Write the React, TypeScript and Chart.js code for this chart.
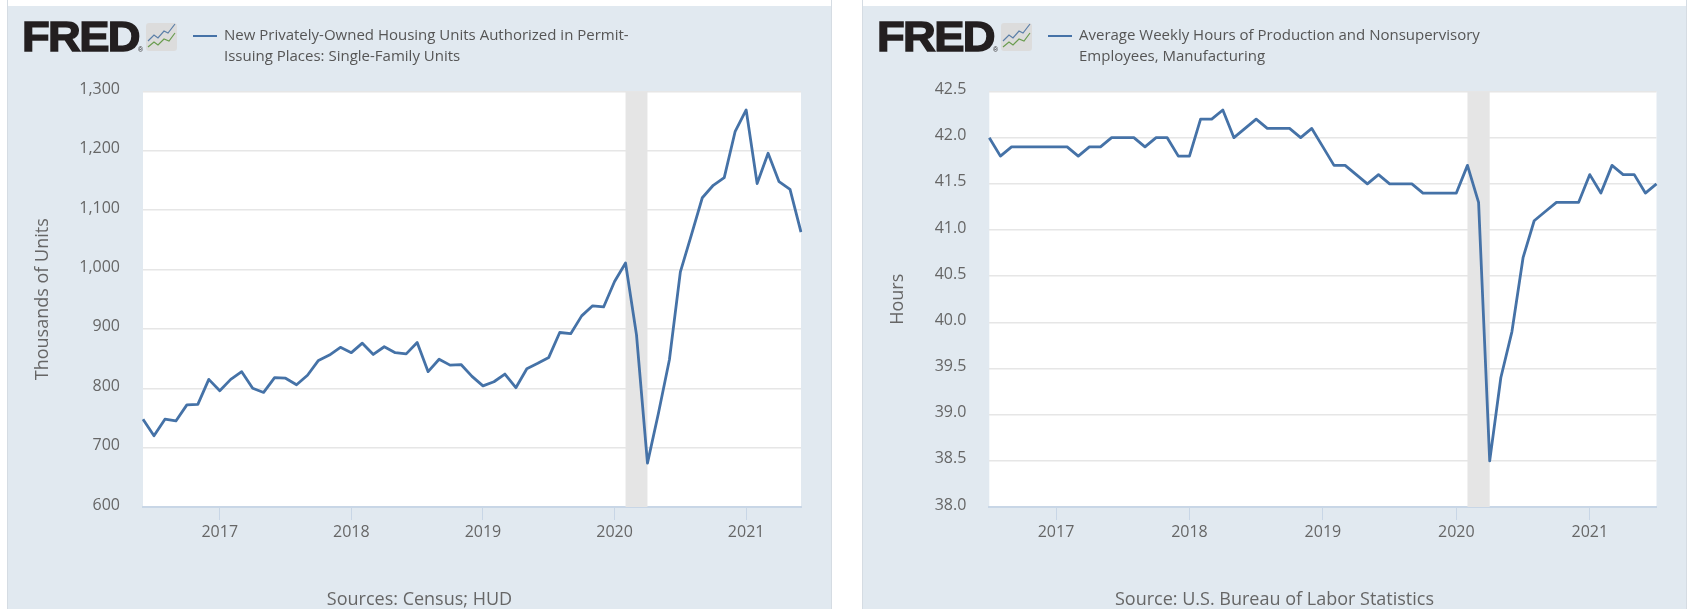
import React, { useEffect, useRef } from "react";
import { Chart, registerables } from "chart.js";

Chart.register(...registerables);

const permitMonths = ["2016-06","2016-07","2016-08","2016-09","2016-10","2016-11","2016-12",
"2017-01","2017-02","2017-03","2017-04","2017-05","2017-06","2017-07","2017-08","2017-09","2017-10","2017-11","2017-12",
"2018-01","2018-02","2018-03","2018-04","2018-05","2018-06","2018-07","2018-08","2018-09","2018-10","2018-11","2018-12",
"2019-01","2019-02","2019-03","2019-04","2019-05","2019-06","2019-07","2019-08","2019-09","2019-10","2019-11","2019-12",
"2020-01","2020-02","2020-03","2020-04","2020-05","2020-06","2020-07","2020-08","2020-09","2020-10","2020-11","2020-12",
"2021-01","2021-02","2021-03","2021-04","2021-05","2021-06"];
const permitValues = [748,720,748,745,772,773,815,
796,815,828,800,793,818,817,806,822,847,856,869,
860,876,857,870,860,858,877,828,849,839,840,820,
804,811,824,801,833,842,852,894,892,922,939,937,
980,1011,890,674,758,848,996,1058,1121,1142,1155,1233,
1269,1145,1196,1148,1135,1063];

const hoursMonths = ["2016-07","2016-08","2016-09","2016-10","2016-11","2016-12",
"2017-01","2017-02","2017-03","2017-04","2017-05","2017-06","2017-07","2017-08","2017-09","2017-10","2017-11","2017-12",
"2018-01","2018-02","2018-03","2018-04","2018-05","2018-06","2018-07","2018-08","2018-09","2018-10","2018-11","2018-12",
"2019-01","2019-02","2019-03","2019-04","2019-05","2019-06","2019-07","2019-08","2019-09","2019-10","2019-11","2019-12",
"2020-01","2020-02","2020-03","2020-04","2020-05","2020-06","2020-07","2020-08","2020-09","2020-10","2020-11","2020-12",
"2021-01","2021-02","2021-03","2021-04","2021-05","2021-06","2021-07"];
const hoursValues = [42.0,41.8,41.9,41.9,41.9,41.9,
41.9,41.9,41.8,41.9,41.9,42.0,42.0,42.0,41.9,42.0,42.0,41.8,
41.8,42.2,42.2,42.3,42.0,42.1,42.2,42.1,42.1,42.1,42.0,42.1,
41.9,41.7,41.7,41.6,41.5,41.6,41.5,41.5,41.5,41.4,41.4,41.4,
41.4,41.7,41.3,38.5,39.4,39.9,40.7,41.1,41.2,41.3,41.3,41.3,
41.6,41.4,41.7,41.6,41.6,41.4,41.5];

const recessionStart = "2020-02";
const recessionEnd = "2020-04";
const FONT = "'Open Sans', sans-serif";
const TEXT = "#666666";

const recessionBand = {
  id: "recessionBand",
  beforeDatasetsDraw(chart: any) {
    const { ctx, chartArea, scales } = chart;
    const labels = chart.data.labels;
    const a = scales.x.getPixelForValue(labels.indexOf(recessionStart));
    const b = scales.x.getPixelForValue(labels.indexOf(recessionEnd));
    ctx.save();
    ctx.fillStyle = "#e5e5e5";
    ctx.fillRect(a, chartArea.top, b - a, chartArea.bottom - chartArea.top);
    ctx.restore();
  },
};

const plotBackground = {
  id: "plotBackground",
  beforeDraw(chart: any) {
    const { ctx, chartArea } = chart;
    ctx.save();
    ctx.fillStyle = "#ffffff";
    ctx.fillRect(chartArea.left, chartArea.top, chartArea.right - chartArea.left, chartArea.bottom - chartArea.top);
    ctx.restore();
  },
};

type PanelProps = {
  left: number; width: number; months: string[]; values: number[];
  min: number; max: number; step: number; yTitle: string;
  legend: string[]; source: string; plotLeft: number; plotRight: number;
  tickFmt: (v: number) => string; titlePad: number;
};

function Panel(p: PanelProps) {
  const ref = useRef<HTMLCanvasElement>(null);
  useEffect(() => {
    const chart = new Chart(ref.current as any, {
      type: "line",
      data: {
        labels: p.months,
        datasets: [{
          data: p.values, borderColor: "#4572a7", borderWidth: 2.8,
          pointRadius: 0, tension: 0, fill: false, borderJoinStyle: "round",
        }],
      },
      plugins: [plotBackground, recessionBand],
      options: {
        animation: false, responsive: false,
        layout: { padding: { top: 85.5, right: p.width - p.plotRight, left: 0, bottom: 0 } },
        plugins: { legend: { display: false }, tooltip: { enabled: false } },
        scales: {
          x: {
            type: "category", offset: false,
            grid: { display: true, drawOnChartArea: false, drawTicks: true, tickLength: 13, color: "#c8d6e6", lineWidth: 1 },
            border: { display: true, color: "#c8d6e6", width: 2 },
            ticks: {
              autoSkip: false, maxRotation: 0, padding: 3, color: TEXT,
              font: { family: FONT, size: 16 },
              callback(this: any, v: any) { return String(this.getLabelForValue(v)).slice(0, 4); },
            },
            afterBuildTicks(s: any) {
              s.ticks = s.ticks.filter((t: any) => p.months[t.value].endsWith("-01"));
            },
            afterFit(s: any) { s.height = 102; },
          },
          y: {
            min: p.min, max: p.max,
            grid: { color: "#e6e6e6", lineWidth: 1.5, drawTicks: false },
            border: { display: false },
            title: { display: true, text: p.yTitle, color: TEXT, font: { family: FONT, size: 18 }, padding: { top: p.titlePad, bottom: 0 } },
            ticks: {
              stepSize: p.step, padding: 23, color: TEXT, labelOffset: -2,
              font: { family: FONT, size: 16 },
              callback: (v: any) => p.tickFmt(Number(v)),
            },
            afterFit(s: any) { s.width = p.plotLeft; },
          },
        },
      },
    } as any);
    return () => chart.destroy();
  }, []);

  return (
    <div style={{ position: "absolute", left: p.left, top: 0, width: p.width, height: 609, borderLeft: "1px solid #d5dce3", borderRight: "1px solid #d5dce3", boxSizing: "content-box" }}>
      <div style={{ position: "absolute", left: 0, top: 6, width: p.width, height: 603, background: "#e1e9f0" }} />
      <canvas ref={ref} width={p.width} height={603} style={{ position: "absolute", left: 0, top: 6, width: p.width, height: 603 }} />
      <div style={{ position: "absolute", left: 14, top: 16, fontFamily: "'Liberation Sans', sans-serif", fontWeight: 700, fontSize: 42, lineHeight: "42px", letterSpacing: -1.5, color: "#231f20", WebkitTextStroke: "1.4px #231f20", transform: "scaleX(1.08)", transformOrigin: "left" }}>FRED</div>
      <div style={{ position: "absolute", left: 130, top: 46, fontFamily: "'Liberation Sans', sans-serif", fontSize: 7, lineHeight: "8px", color: "#231f20" }}>®</div>
      <svg width={33} height={30} style={{ position: "absolute", left: 137, top: 22 }}>
        <rect x={1} y={1} width={31} height={28} rx={3} fill="#dcdcdc" />
        <polyline points="3,19 9,13 13,16 19,9 23,11 30,2" fill="none" stroke="#5b7fa8" strokeWidth={1.2} />
        <polyline points="3,25 9,20 13,23 19,17 24,19 30,11" fill="none" stroke="#6a9c4f" strokeWidth={1.2} />
      </svg>
      <div style={{ position: "absolute", left: 185, top: 34.5, width: 24, height: 2.5, background: "#4572a7" }} />
      <div style={{ position: "absolute", left: 216, top: 24, fontFamily: FONT, fontSize: 15, lineHeight: "21px", color: "#555555", whiteSpace: "nowrap" }}>
        {p.legend.map((l) => <div key={l}>{l}</div>)}
      </div>
      <div style={{ position: "absolute", left: 0, width: p.width, top: 586, textAlign: "center", fontFamily: FONT, fontSize: 18, lineHeight: "24px", color: TEXT, whiteSpace: "nowrap" }}>{p.source}</div>
    </div>
  );
}

export default function App() {
  useEffect(() => {
    document.body.style.margin = "0";
    document.body.style.overflow = "hidden";
    document.body.style.background = "#ffffff";
  }, []);
  return (
    <div style={{ position: "absolute", left: 0, top: 0, width: 1687, height: 609, overflow: "hidden", background: "#fff" }}>
      <Panel left={7} width={823} months={permitMonths} values={permitValues} min={600} max={1300} step={100}
        yTitle="Thousands of Units" legend={["New Privately-Owned Housing Units Authorized in Permit-", "Issuing Places: Single-Family Units"]}
        source="Sources: Census; HUD" plotLeft={135} plotRight={793} titlePad={24}
        tickFmt={(v) => v.toLocaleString("en-US")} />
      <Panel left={862} width={823} months={hoursMonths} values={hoursValues} min={38} max={42.5} step={0.5}
        yTitle="Hours" legend={["Average Weekly Hours of Production and Nonsupervisory", "Employees, Manufacturing"]}
        source="Source: U.S. Bureau of Labor Statistics" plotLeft={126.3} plotRight={793.5} titlePad={24}
        tickFmt={(v) => v.toFixed(1)} />
    </div>
  );
}
